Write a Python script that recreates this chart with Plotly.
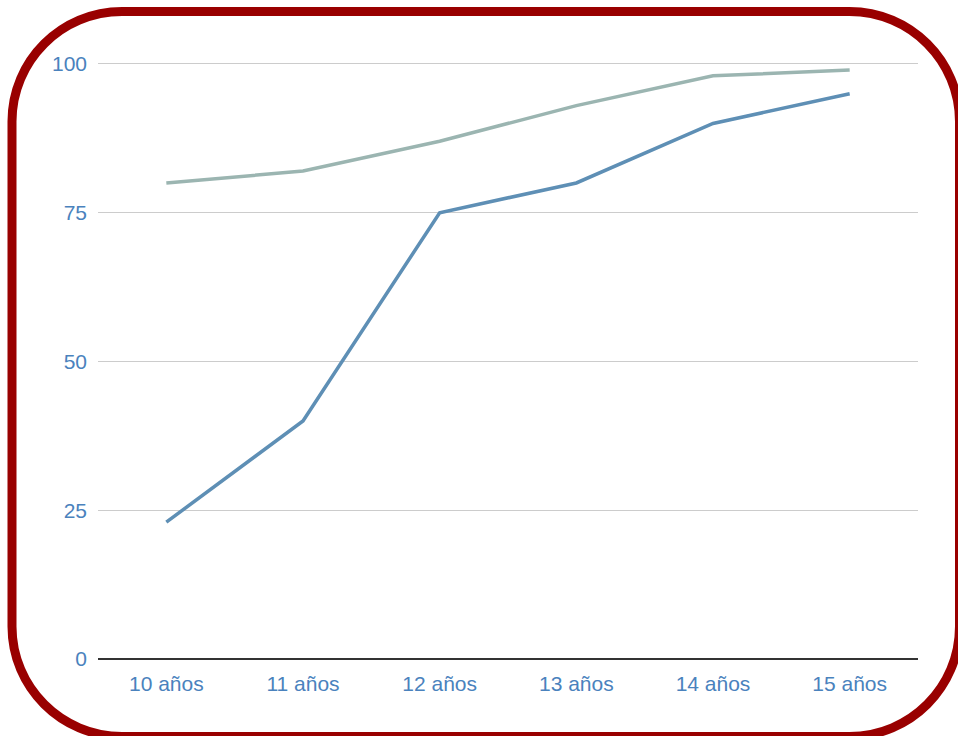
import plotly.graph_objects as go

categories = ["10 años", "11 años", "12 años", "13 años", "14 años", "15 años"]
serie_azul = [23, 40, 75, 80, 90, 95]
serie_gris = [80, 82, 87, 93, 98, 99]
y_ticks = [0, 25, 50, 75, 100]

W, H = 958, 736
L, T = 98, 58
R = W - 918
B = H - 659
pw, ph = W - L - R, H - T - B

def px(x):
    return (x - L) / pw

def py(y):
    return (H - B - y) / ph

# rounded border path (pixel coords -> paper coords)
x0, x1, y0, y1, r = 12, 959.5, 11.5, 736.5, 110
k = 0.5523 * r
def P(x, y):
    return f"{px(x):.5f},{py(y):.5f}"
path = (
    f"M {P(x0 + r, y0)} L {P(x1 - r, y0)} "
    f"C {P(x1 - r + k, y0)} {P(x1, y0 + r - k)} {P(x1, y0 + r)} "
    f"L {P(x1, y1 - r)} "
    f"C {P(x1, y1 - r + k)} {P(x1 - r + k, y1)} {P(x1 - r, y1)} "
    f"L {P(x0 + r, y1)} "
    f"C {P(x0 + r - k, y1)} {P(x0, y1 - r + k)} {P(x0, y1 - r)} "
    f"L {P(x0, y0 + r)} "
    f"C {P(x0, y0 + r - k)} {P(x0 + r - k, y0)} {P(x0 + r, y0)} Z"
)

fig = go.Figure()
fig.add_trace(go.Scatter(x=categories, y=serie_gris, mode="lines",
                         line=dict(color="#9bb5b1", width=3.5), showlegend=False))
fig.add_trace(go.Scatter(x=categories, y=serie_azul, mode="lines",
                         line=dict(color="#5e8fb5", width=3.5), showlegend=False))

fig.update_layout(
    width=W, height=H,
    margin=dict(l=L, r=R, t=T, b=B),
    paper_bgcolor="white", plot_bgcolor="white",
    font=dict(family="Liberation Sans, Arial, sans-serif", size=21, color="#4a82bd"),
    xaxis=dict(type="category", range=[-0.5, 5.5], showgrid=False, showline=False,
               zeroline=False, ticks="", ticklabelstandoff=10),
    yaxis=dict(range=[0, 101], tickvals=y_ticks, showgrid=True, gridcolor="#cccccc",
               gridwidth=1, zeroline=True, zerolinecolor="#333333", zerolinewidth=2,
               showline=False, ticks="", ticklabelstandoff=10),
    shapes=[dict(type="path", xref="paper", yref="paper", path=path,
                 line=dict(color="#990000", width=9), layer="above")],
    hovermode=False,
)

fig.write_html("out.html",
               config={"displayModeBar": False},
               post_script="document.body.style.margin='0';document.body.style.overflow='hidden';")
